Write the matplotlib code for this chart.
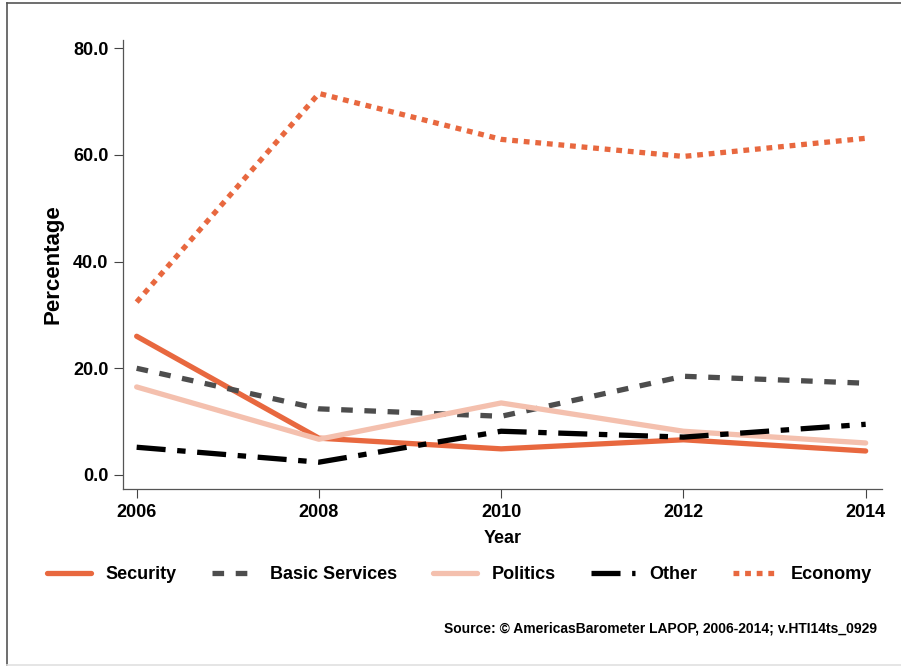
import matplotlib.pyplot as plt
from matplotlib.lines import Line2D

plt.rcParams['font.family'] = ['Liberation Sans', 'DejaVu Sans']

years = [2006, 2008, 2010, 2012, 2014]
security = [26.0, 6.9, 4.9, 6.6, 4.5]
basic_services = [20.0, 12.4, 11.0, 18.5, 17.2]
politics = [16.5, 6.7, 13.5, 8.2, 6.0]
other = [5.2, 2.4, 8.2, 7.1, 9.5]
economy = [32.4, 71.5, 62.9, 59.7, 63.1]
yticks = [0, 20, 40, 60, 80]

orange = '#E8683F'
fig = plt.figure(figsize=(9.01, 6.66), dpi=100)
ax = fig.add_axes([0.1365, 0.2658, 0.8425, 0.674])

lw = 3.8
ax.plot(years, security, color=orange, lw=lw, label='Security', solid_capstyle='round')
ax.plot(years, basic_services, color='#4D4D4D', lw=lw, ls=(0, (2.2, 2.2)), label='Basic Services')
ax.plot(years, politics, color='#F4C0AE', lw=lw, label='Politics', solid_capstyle='round')
ax.plot(years, other, color='black', lw=lw, ls=(0, (5.5, 2.2, 1.6, 2.2)), label='Other')
ax.plot(years, economy, color=orange, lw=lw, ls=(0, (1.1, 1.1)), label='Economy')

ax.set_xlim(2005.85, 2014.18)
ax.set_ylim(-2.62, 81.5)
ax.set_xticks(years)
ax.set_yticks(yticks)
ax.set_yticklabels([f'{v:.1f}' for v in yticks])
for lab in ax.get_xticklabels() + ax.get_yticklabels():
    lab.set_fontweight('bold')
    lab.set_fontsize(13)
ax.tick_params(direction='out', length=6.5, width=0.8, color='#444444', pad=4)
for s in ['top', 'right']:
    ax.spines[s].set_visible(False)
for s in ['left', 'bottom']:
    ax.spines[s].set_color('#555555')
    ax.spines[s].set_linewidth(0.9)

ax.set_ylabel('Percentage', fontsize=16, fontweight='bold', labelpad=7)
ax.set_xlabel('Year', fontsize=13, fontweight='bold', labelpad=7)

fig.legend(loc='center', bbox_to_anchor=(0.51, 0.137), ncol=5, frameon=False,
           handlelength=2.45, columnspacing=1.95, handletextpad=0.8,
           prop={'size': 13, 'weight': 'bold'})

fig.text(0.973, 0.0556, 'Source: \u00a9 AmericasBarometer LAPOP, 2006-2014; v.HTI14ts_0929',
         ha='right', va='center', fontsize=10, fontweight='bold')

# frame lines around the figure
fig.add_artist(Line2D([0.0078, 0.0078], [0.0, 0.9955], transform=fig.transFigure,
                      color='#555555', lw=1.2))
fig.add_artist(Line2D([0.0078, 1.0], [0.9955, 0.9955], transform=fig.transFigure,
                      color='#555555', lw=1.2))
fig.add_artist(Line2D([0.0078, 1.0], [0.002, 0.002], transform=fig.transFigure,
                      color='#E0E0E0', lw=1.2))

fig.savefig('out.png', dpi=100)
